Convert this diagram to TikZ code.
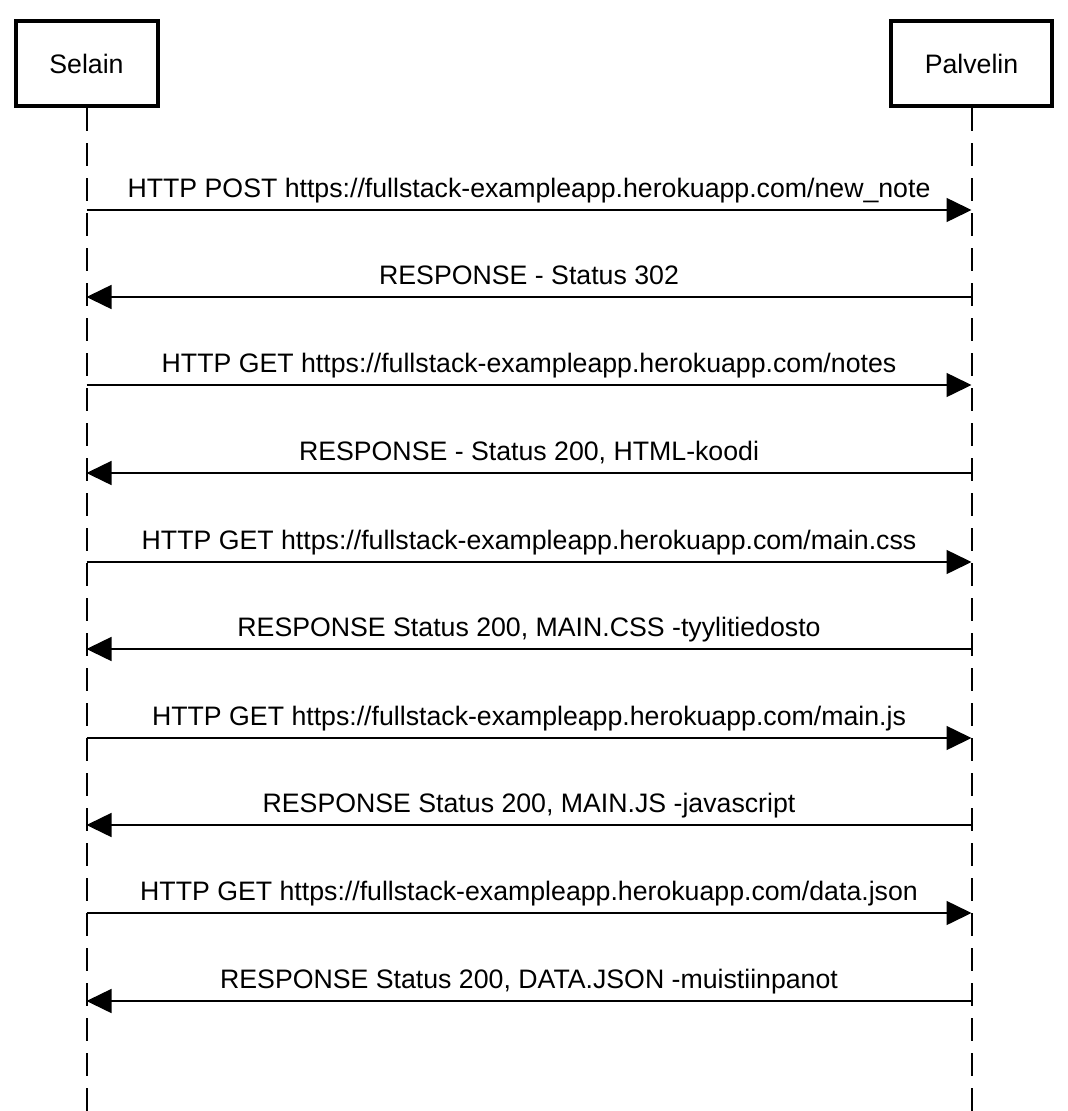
\documentclass[tikz,border=0pt]{standalone}
\usepackage{fontspec}
\setmainfont{Liberation Sans}
\usepackage{tikz}
\usetikzlibrary{arrows.meta,positioning}

\begin{document}
\begin{tikzpicture}[
    x=1pt, y=-1pt,
    actor/.style={rectangle, draw, line width=4pt, minimum width=142pt, minimum height=85pt, font=\fontsize{26.7}{30}\selectfont},
    lifeline/.style={line width=2pt, dash pattern=on 23pt off 12pt},
    msg/.style={line width=1.5pt, -{Triangle[length=25pt,width=24pt]}},
    lbl/.style={anchor=base, font=\fontsize{26.7}{30}\selectfont, inner sep=0pt}
]
\useasboundingbox (0,0) rectangle (1068,1111);

% Actors
\node[actor] (selain) at (86.5,63.5) {Selain};
\node[actor, minimum width=161pt] (palvelin) at (971.5,63.5) {Palvelin};

% Lifelines
\coordinate (selainEnd) at (86.5,1111);
\coordinate (palvelinEnd) at (971.5,1111);
\draw[lifeline] (selain.south) -- (selainEnd);
\draw[lifeline] (palvelin.south) -- (palvelinEnd);

% Message points
\coordinate (s1) at (86.5,210);   \coordinate (p1) at (971.5,210);
\coordinate (s2) at (86.5,297);   \coordinate (p2) at (971.5,297);
\coordinate (s3) at (86.5,385);   \coordinate (p3) at (971.5,385);
\coordinate (s4) at (86.5,473);   \coordinate (p4) at (971.5,473);
\coordinate (s5) at (86.5,562);   \coordinate (p5) at (971.5,562);
\coordinate (s6) at (86.5,649);   \coordinate (p6) at (971.5,649);
\coordinate (s7) at (86.5,738);   \coordinate (p7) at (971.5,738);
\coordinate (s8) at (86.5,825);   \coordinate (p8) at (971.5,825);
\coordinate (s9) at (86.5,913);   \coordinate (p9) at (971.5,913);
\coordinate (s10) at (86.5,1001); \coordinate (p10) at (971.5,1001);

% Messages
\draw[msg] (s1) -- node[lbl, yshift=13pt] (m1) {HTTP POST https://fullstack-exampleapp.herokuapp.com/new\_note} (p1);
\draw[msg] (p2) -- node[lbl, yshift=13pt] (m2) {RESPONSE - Status 302} (s2);
\draw[msg] (s3) -- node[lbl, yshift=13pt] (m3) {HTTP GET https://fullstack-exampleapp.herokuapp.com/notes} (p3);
\draw[msg] (p4) -- node[lbl, yshift=13pt] (m4) {RESPONSE - Status 200, HTML-koodi} (s4);
\draw[msg] (s5) -- node[lbl, yshift=13pt] (m5) {HTTP GET https://fullstack-exampleapp.herokuapp.com/main.css} (p5);
\draw[msg] (p6) -- node[lbl, yshift=13pt] (m6) {RESPONSE Status 200, MAIN.CSS -tyylitiedosto} (s6);
\draw[msg] (s7) -- node[lbl, yshift=13pt] (m7) {HTTP GET https://fullstack-exampleapp.herokuapp.com/main.js} (p7);
\draw[msg] (p8) -- node[lbl, yshift=13pt] (m8) {RESPONSE Status 200, MAIN.JS -javascript} (s8);
\draw[msg] (s9) -- node[lbl, yshift=13pt] (m9) {HTTP GET https://fullstack-exampleapp.herokuapp.com/data.json} (p9);
\draw[msg] (p10) -- node[lbl, yshift=13pt] (m10) {RESPONSE Status 200, DATA.JSON -muistiinpanot} (s10);

\end{tikzpicture}
\end{document}
